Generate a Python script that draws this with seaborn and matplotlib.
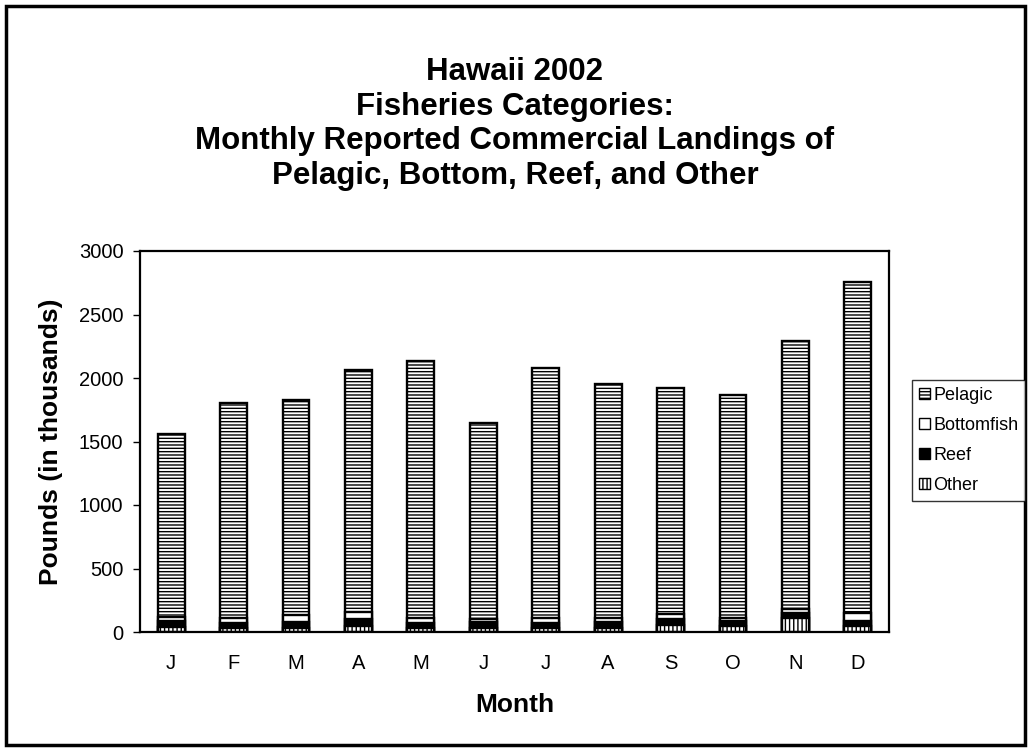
import matplotlib
matplotlib.use("Agg")
import matplotlib.pyplot as plt
import seaborn as sns
import pandas as pd
import numpy as np
from matplotlib.patches import Patch, Rectangle

months = ["J", "F", "M", "A", "M", "J", "J", "A", "S", "O", "N", "D"]
totals = [1560, 1800, 1825, 2065, 2130, 1645, 2080, 1955, 1920, 1870, 2295, 2755]
other = [40, 30, 35, 50, 30, 30, 30, 35, 55, 45, 110, 45]
reef = [45, 40, 45, 50, 40, 45, 40, 45, 45, 40, 40, 45]
bottomfish = [35, 40, 55, 60, 40, 25, 40, 30, 45, 25, 35, 60]
pelagic = [t - o - r - b for t, o, r, b in zip(totals, other, reef, bottomfish)]

sns.set_style("white")
plt.rcParams["font.family"] = ["Liberation Sans", "DejaVu Sans"]
plt.rcParams["hatch.linewidth"] = 1.0
plt.rcParams["text.color"] = "black"
plt.rcParams["axes.labelcolor"] = "black"
plt.rcParams["xtick.color"] = "black"
plt.rcParams["ytick.color"] = "black"

W, H = 1030, 750
fig = plt.figure(figsize=(W / 100, H / 100), dpi=100)
L, R, T, B = 140, 889, 251, 632
ax = fig.add_axes([L / W, 1 - B / H, (R - L) / W, (B - T) / H])

pos = [f"{i}" for i in range(12)]
o = np.array(other); r = np.array(reef); b = np.array(bottomfish); p = np.array(pelagic)
df = pd.DataFrame({
    "pos": pos,
    "Pelagic": o + r + b + p,
    "Bottomfish": o + r + b,
    "Reef": o + r,
    "Other": o,
})

styles = [
    ("Pelagic", "white", "-----"),
    ("Bottomfish", "white", ""),
    ("Reef", "black", ""),
    ("Other", "white", "||||"),
]
for name, fc, hatch in styles:
    sns.barplot(data=df, x="pos", y=name, ax=ax, color=fc, width=0.43,
                edgecolor="black", linewidth=1.7, hatch=hatch, saturation=1)

ax.set_xticks(range(12))
ax.set_xticklabels(months, fontsize=14.5)
ax.set_xlim(-0.5, 11.5)
ax.set_ylim(0, 3000)
ax.set_yticks(range(0, 3001, 500))
ax.tick_params(axis="y", labelsize=14.5, length=5, width=1, direction="out", left=True, pad=7)
ax.tick_params(axis="x", length=0, pad=16)
for s in ax.spines.values():
    s.set_linewidth(1.6)
    s.set_color("black")
ax.set_xlabel("Month", fontsize=19, fontweight="bold", labelpad=14)
ax.set_ylabel("Pounds (in thousands)", fontsize=19, fontweight="bold", labelpad=11)

title = "Hawaii 2002\nFisheries Categories:\nMonthly Reported Commercial Landings of\nPelagic, Bottom, Reef, and Other"
fig.text(0.5, 1 - 124 / H, title, ha="center", va="center", fontsize=22.5,
         fontweight="bold", linespacing=1.19)

handles = [
    Patch(facecolor="white", edgecolor="black", hatch="-----", label="Pelagic"),
    Patch(facecolor="white", edgecolor="black", label="Bottomfish"),
    Patch(facecolor="black", edgecolor="black", label="Reef"),
    Patch(facecolor="white", edgecolor="black", hatch="||||", label="Other"),
]
leg = fig.legend(handles=handles, loc="upper left", bbox_to_anchor=(912 / W, 1 - 380 / H),
                 borderaxespad=0, frameon=True, fancybox=False, fontsize=13,
                 handlelength=0.6, handleheight=0.6, handletextpad=0.2,
                 borderpad=0.38, labelspacing=0.72, edgecolor="black")
leg.get_frame().set_linewidth(1.0)

fig.patches.append(Rectangle((5.5 / W, 5.5 / H), 1019 / W, 739 / H, transform=fig.transFigure,
                             fill=False, edgecolor="black", linewidth=2.5))

fig.savefig("out.png", dpi=100, facecolor="white")
